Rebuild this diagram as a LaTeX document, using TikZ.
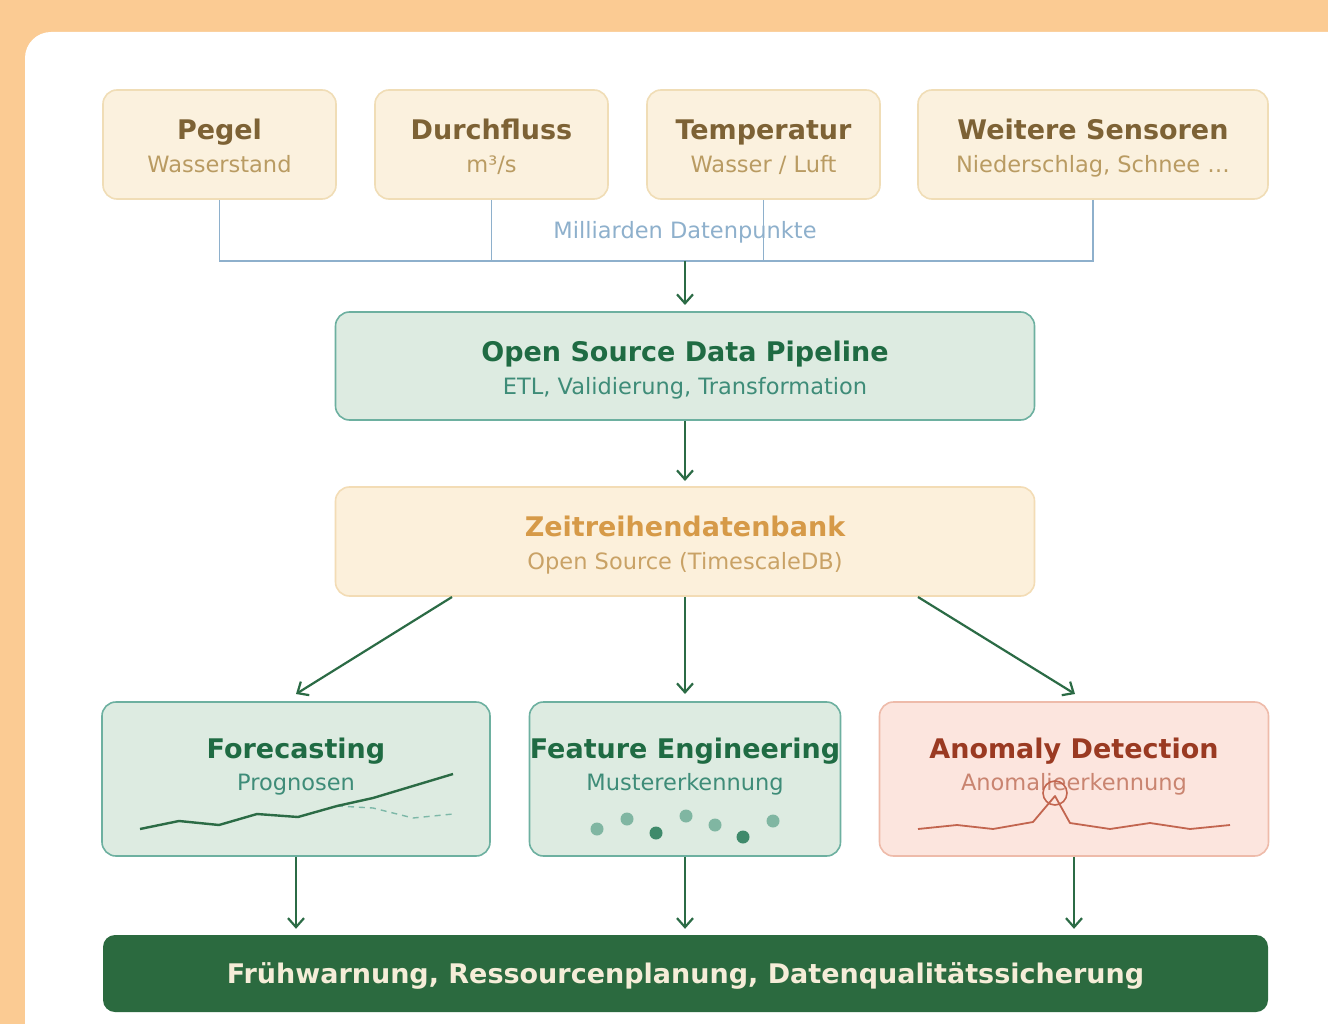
\documentclass[tikz,border=0pt]{standalone}
\usepackage{fontspec}
\setmainfont{DejaVu Sans}
\usetikzlibrary{arrows.meta}
\definecolor{bgorange}{HTML}{FBCB93}
\definecolor{srcfill}{HTML}{FBF1DE}
\definecolor{srcline}{HTML}{F0DDB6}
\definecolor{srctitle}{HTML}{7D6235}
\definecolor{srcsub}{HTML}{B99B62}
\definecolor{wire}{HTML}{8EB0CC}
\definecolor{grfill}{HTML}{DDEBE1}
\definecolor{grline}{HTML}{6DB0A0}
\definecolor{grtitle}{HTML}{1F6B43}
\definecolor{grsub}{HTML}{3E8C78}
\definecolor{dbfill}{HTML}{FCF0DB}
\definecolor{dbline}{HTML}{F3DCB5}
\definecolor{dbtitle}{HTML}{D69A48}
\definecolor{dbsub}{HTML}{C9A266}
\definecolor{anfill}{HTML}{FCE5DE}
\definecolor{anline}{HTML}{EEBBAA}
\definecolor{antitle}{HTML}{9A3A22}
\definecolor{ansub}{HTML}{C98470}
\definecolor{anplot}{HTML}{C2654F}
\definecolor{flow}{HTML}{2B6B45}
\definecolor{barfill}{HTML}{2B6A3F}
\definecolor{bartext}{HTML}{F5EDD8}
\definecolor{dotlight}{HTML}{80B6A2}
\definecolor{dotdark}{HTML}{3F8A6B}
\definecolor{dashplot}{HTML}{7DB8A8}
\tikzset{
  box/.style={rectangle, rounded corners=14pt, line width=1.6pt, inner sep=0pt},
  srcbox/.style={box, draw=srcline, fill=srcfill, minimum width=233pt, minimum height=109pt},
  grbox/.style={box, draw=grline, fill=grfill},
  dbbox/.style={box, draw=dbline, fill=dbfill},
  anbox/.style={box, draw=anline, fill=anfill},
  ttl/.style={inner sep=0pt, anchor=base, font=\fontsize{27}{32}\selectfont\bfseries},
  sub/.style={inner sep=0pt, anchor=base, font=\fontsize{22.5}{27}\selectfont},
  wireline/.style={draw=wire, line width=1.6pt},
  flowarrow/.style={draw=flow, line width=2.2pt, -{Straight Barb[length=9pt,width=16pt,line width=2.2pt]}},
}
\begin{document}
\begin{tikzpicture}[x=1pt, y=-1pt]
\useasboundingbox (0,0) rectangle (1328,1024);
% page background and white panel
\fill[bgorange] (0,0) rectangle (1328,1024);
\fill[white, rounded corners=26pt] (25,32) rectangle (1380,1080);

% sensor boxes
\node[srcbox] (pegel) at (219.5,144.5) {};
\node[srcbox] (durch) at (491.5,144.5) {};
\node[srcbox] (temp) at (763.5,144.5) {};
\node[srcbox, minimum width=350pt] (weit) at (1093,144.5) {};
\node[ttl, text=srctitle] (pegelT) at (219.5,139.5) {Pegel};
\node[sub, text=srcsub] (pegelS) at (219.5,173) {Wasserstand};
\node[ttl, text=srctitle] (durchT) at (491.5,139.5) {Durchfluss};
\node[sub, text=srcsub] (durchS) at (491.5,173) {m³/s};
\node[ttl, text=srctitle] (tempT) at (763.5,139.5) {Temperatur};
\node[sub, text=srcsub] (tempS) at (763.5,173) {Wasser / Luft};
\node[ttl, text=srctitle] (weitT) at (1093,139.5) {Weitere Sensoren};
\node[sub, text=srcsub] (weitS) at (1093,173) {Niederschlag, Schnee …};

% collector lines
\coordinate (bus) at (685,261);
\draw[wireline] (pegel.south) |- (bus);
\draw[wireline] (weit.south) |- (bus);
\draw[wireline] (durch.south) -- (durch.south |- bus);
\node[sub, text=wire] (volume) at (685,238.5) {Milliarden Datenpunkte};
\draw[wireline] (temp.south) -- (temp.south |- bus);

% pipeline and database
\node[grbox, minimum width=699pt, minimum height=108pt] (pipe) at (685,366) {};
\node[ttl, text=grtitle] (pipeT) at (685,361) {Open Source Data Pipeline};
\node[sub, text=grsub] (pipeS) at (685,394.5) {ETL, Validierung, Transformation};
\node[dbbox, minimum width=699pt, minimum height=109pt] (db) at (685,541.5) {};
\node[ttl, text=dbtitle] (dbT) at (685,536) {Zeitreihendatenbank};
\node[sub, text=dbsub] (dbS) at (685,569.5) {Open Source (TimescaleDB)};

\draw[flowarrow] (bus) -- (685,305);
\draw[flowarrow] (pipe.south) -- (685,481);

% analysis boxes
\node[grbox, minimum width=388pt, minimum height=154pt] (fc) at (296,779) {};
\node[grbox, minimum width=311pt, minimum height=154pt] (fe) at (685,779) {};
\node[anbox, minimum width=389pt, minimum height=154pt] (ad) at (1074,779) {};
\node[ttl, text=grtitle] (fcT) at (296,758) {Forecasting};
\node[sub, text=grsub] (fcS) at (296,790.5) {Prognosen};
\node[ttl, text=grtitle] (feT) at (685,758) {Feature Engineering};
\node[sub, text=grsub] (feS) at (685,790.5) {Mustererkennung};
\node[ttl, text=antitle] (adT) at (1074,758) {Anomaly Detection};
\node[sub, text=ansub] (adS) at (1074,790.5) {Anomalieerkennung};

\coordinate (dbL) at (452,597);
\coordinate (dbR) at (918,597);
\draw[flowarrow] (dbL) -- (296,694);
\draw[flowarrow] (db.south) -- (685,694);
\draw[flowarrow] (dbR) -- (1075,694);

% forecast sketch
\draw[dashplot, line width=1.4pt, dash pattern=on 6pt off 5pt]
  (337,806) -- (373,808) -- (413,818) -- (453,814);
\draw[flow, line width=2.4pt, line join=round]
  (140,829) -- (179,821) -- (219,825) -- (257,814) -- (298,817)
  -- (337,806) -- (373,798) -- (453,774);

% feature dots
\fill[dotlight] (597,829) circle (6.5pt);
\fill[dotlight] (627,819) circle (6.5pt);
\fill[dotdark] (656,833) circle (6.5pt);
\fill[dotlight] (686,816) circle (6.5pt);
\fill[dotlight] (715,825) circle (6.5pt);
\fill[dotdark] (743,837) circle (6.5pt);
\fill[dotlight] (773,821) circle (6.5pt);

% anomaly sketch
\draw[anplot, line width=1.8pt, line join=round]
  (918,829) -- (957,825) -- (993,829) -- (1033,822) -- (1055,796)
  -- (1070,823) -- (1110,829) -- (1150,823) -- (1190,829) -- (1230,825);
\draw[anplot, line width=1.6pt] (1055,793) circle (12pt);

% outcome bar
\node[box, draw=none, fill=barfill, rounded corners=12pt, minimum width=1165pt, minimum height=77pt] (out) at (685.5,973.5) {};
\node[ttl, text=bartext, font=\fontsize{27}{32}\selectfont\bfseries] (outT) at (685.5,983) {Frühwarnung, Ressourcenplanung, Datenqualitätssicherung};
\draw[flowarrow] (fc.south) -- ++(0,72);
\draw[flowarrow] (fe.south) -- ++(0,72);
\draw[flowarrow] (ad.south) -- ++(0,72);
\end{tikzpicture}
\end{document}
